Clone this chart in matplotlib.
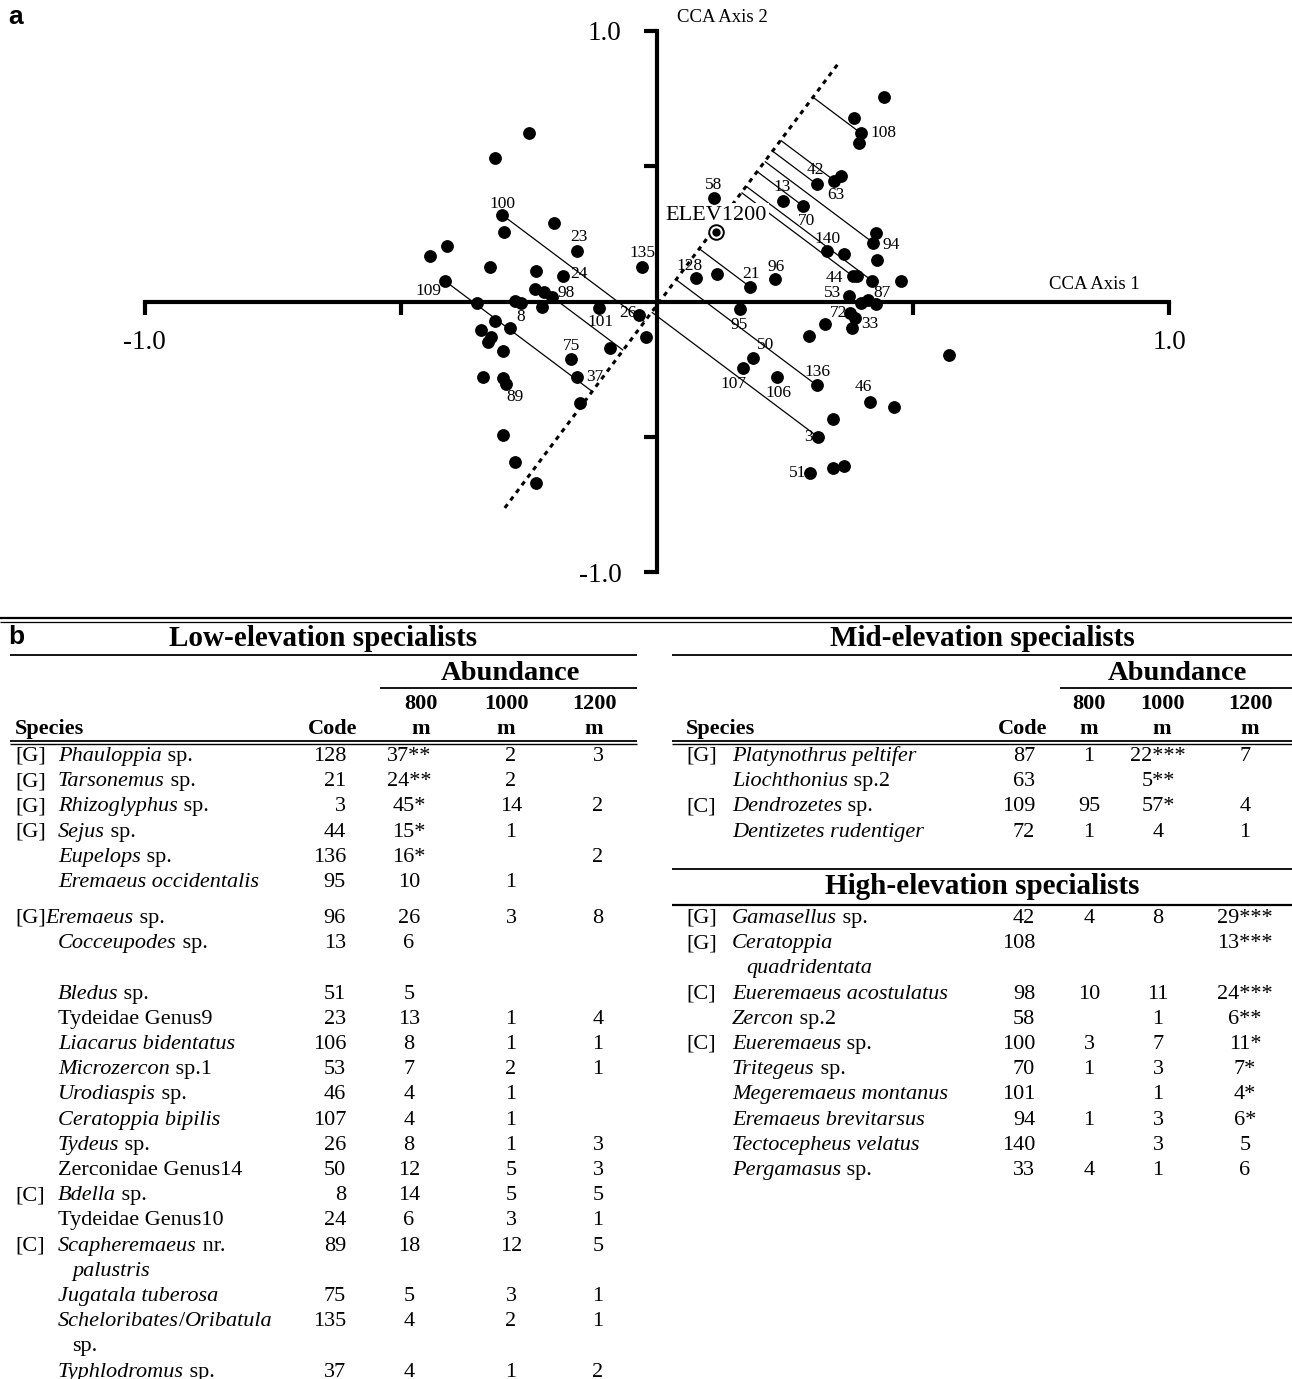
import matplotlib
matplotlib.use("Agg")
import matplotlib.pyplot as plt
import numpy as np

plt.rcParams["font.family"] = ["Liberation Serif", "DejaVu Serif"]

# ---------------- CCA species scores ----------------
axis1 = [-0.249, -0.316, -0.302, -0.298, -0.200, -0.157, -0.029, -0.410, -0.442, -0.326,
         -0.236, -0.183, -0.413, -0.238, -0.220, -0.204, -0.351, -0.277, -0.266, -0.225,
         -0.113, -0.036, -0.021, -0.092, -0.316, -0.287, -0.344, -0.323, -0.329, -0.301,
         -0.168, -0.156, -0.340, -0.301, -0.295, -0.150, -0.301, -0.277, -0.236,
         0.442, 0.385, 0.398, 0.394, 0.360, 0.346, 0.312, 0.111, 0.245, 0.285,
         0.427, 0.422, 0.332, 0.364, 0.430, 0.076, 0.118, 0.181, 0.230, 0.382,
         0.391, 0.420, 0.476, 0.374, 0.398, 0.412, 0.427, 0.161, 0.377, 0.386,
         0.381, 0.328, 0.297, 0.570, 0.188, 0.167, 0.234, 0.312, 0.416, 0.462,
         0.343, 0.315, 0.299, 0.343, 0.364]
axis2 = [0.624, 0.532, 0.320, 0.258, 0.291, 0.187, 0.128, 0.206, 0.167, 0.126,
         0.113, 0.093, 0.075, 0.047, 0.034, 0.016, -0.007, 0.003, -0.007, -0.019,
         -0.024, -0.050, -0.130, -0.171, -0.071, -0.099, -0.105, -0.132, -0.149, -0.183,
         -0.211, -0.278, -0.278, -0.283, -0.305, -0.376, -0.495, -0.594, -0.672,
         0.757, 0.677, 0.622, 0.585, 0.465, 0.447, 0.433, 0.382, 0.372, 0.353,
         0.254, 0.217, 0.188, 0.174, 0.153, 0.088, 0.101, 0.055, 0.082, 0.094,
         0.094, 0.076, 0.076, 0.022, -0.007, 0.004, -0.009, -0.028, -0.044, -0.062,
         -0.099, -0.084, -0.126, -0.198, -0.210, -0.247, -0.278, -0.310, -0.372, -0.390,
         -0.435, -0.502, -0.635, -0.617, -0.608]
species_code = ["", "", "100", "", "", "23", "135", "", "", "",
                "", "24", "109", "", "", "98", "", "", "", "",
                "101", "26", "", "", "", "8", "", "", "", "",
                "75", "37", "", "", "89", "", "", "", "",
                "", "", "108", "", "", "63", "42", "58", "13", "70",
                "", "94", "140", "", "", "128", "", "21", "96", "44",
                "", "", "", "53", "", "", "87", "95", "72", "",
                "33", "", "", "", "50", "107", "106", "136", "46", "",
                "", "3", "51", "", ""]
# species whose projection onto the elevation gradient is drawn
projected = ["100", "109", "98", "108", "63", "42", "94", "70", "44", "21", "136", "3"]
projected_extra = [60]          # unlabelled score also projected (index)

# environmental variable (centroid) and its fitted axis
elev_name = "ELEV1200"
elev_xy = (0.115, 0.256)
elev_axis = [(-0.297, -0.763), (0.353, 0.878)]

# label offsets in pixels (dx, dy)
label_offset = {
    "100": (0, 11), "23": (2, 14), "135": (0, 14), "24": (16, 2), "109": (-17, -10),
    "98": (14, 4), "8": (11, 11), "101": (1, -14), "26": (-11, 2), "75": (1, 13),
    "37": (18, 0), "89": (9, -13), "128": (-6, 12), "21": (1, 13), "96": (1, 12),
    "58": (0, 13), "13": (0, 14), "70": (3, -15), "42": (-2, 14), "63": (2, -14),
    "108": (22, 0), "140": (0, 12), "94": (18, -2), "44": (-18, -2), "53": (-16, 3),
    "87": (6, 11), "72": (-12, 0), "33": (18, 4), "95": (0, -16), "50": (12, 13),
    "107": (-9, -16), "106": (2, -16), "136": (1, 13), "46": (-7, 15), "3": (-10, 0),
    "51": (-13, 0),
}

# ---------------- specialist tables ----------------
low_tags = ["[G]", "[G]", "[G]", "[G]", "", "", "", "", "", "", "", "", "", "", "", "",
            "[C]", "", "[C]", "", "", ""]
low_names = ["_Phauloppia_ sp.", "_Tarsonemus_ sp.", "_Rhizoglyphus_ sp.", "_Sejus_ sp.",
             "_Eupelops_ sp.", "_Eremaeus occidentalis_", "[G]_Eremaeus_ sp.",
             "_Cocceupodes_ sp.\n", "_Bledus_ sp.", "Tydeidae Genus9", "_Liacarus bidentatus_",
             "_Microzercon_ sp.1", "_Urodiaspis_ sp.", "_Ceratoppia bipilis_", "_Tydeus_ sp.",
             "Zerconidae Genus14", "_Bdella_ sp.", "Tydeidae Genus10",
             "_Scapheremaeus_ nr.\n_palustris_", "_Jugatala tuberosa_",
             "_Scheloribates_/_Oribatula_\nsp.", "_Typhlodromus_ sp."]
low_code = [128, 21, 3, 44, 136, 95, 96, 13, 51, 23, 106, 53, 46, 107, 26, 50, 8, 24, 89, 75, 135, 37]
low_800 = ["37**", "24**", "45*", "15*", "16*", "10", "26", "6", "5", "13", "8", "7", "4", "4",
           "8", "12", "14", "6", "18", "5", "4", "4"]
low_1000 = ["2", "2", "14", "1", "", "1", "3", "", "", "1", "1", "2", "1", "1", "1", "5", "5",
            "3", "12", "3", "2", "1"]
low_1200 = ["3", "", "2", "", "2", "", "8", "", "", "4", "1", "1", "", "", "3", "3", "5", "1",
            "5", "1", "1", "2"]

mid_tags = ["[G]", "", "[C]", ""]
mid_names = ["_Platynothrus peltifer_", "_Liochthonius_ sp.2", "_Dendrozetes_ sp.",
             "_Dentizetes rudentiger_"]
mid_code = [87, 63, 109, 72]
mid_800 = ["1", "", "95", "1"]
mid_1000 = ["22***", "5**", "57*", "4"]
mid_1200 = ["7", "", "4", "1"]

high_tags = ["[G]", "[G]", "[C]", "", "[C]", "", "", "", "", ""]
high_names = ["_Gamasellus_ sp.", "_Ceratoppia_\n_quadridentata_", "_Eueremaeus acostulatus_",
              "_Zercon_ sp.2", "_Eueremaeus_ sp.", "_Tritegeus_ sp.", "_Megeremaeus montanus_",
              "_Eremaeus brevitarsus_", "_Tectocepheus velatus_", "_Pergamasus_ sp."]
high_code = [42, 108, 98, 58, 100, 70, 101, 94, 140, 33]
high_800 = ["4", "", "10", "", "3", "1", "", "1", "", "4"]
high_1000 = ["8", "", "11", "1", "7", "3", "1", "3", "3", "1"]
high_1200 = ["29***", "13***", "24***", "6**", "11*", "7*", "4*", "6*", "5", "6"]

elevations = ["800", "1000", "1200"]

# ---------------- figure ----------------
W, H = 1292, 1379
fig = plt.figure(figsize=(W / 100, H / 100), dpi=100)

# full-page pixel canvas for the tables and panel letters
tab = fig.add_axes([0, 0, 1, 1])
tab.set_xlim(0, W)
tab.set_ylim(H, 0)
tab.axis("off")

# ordination panel
ax = fig.add_axes([144.5 / W, 1 - 572 / H, 1025 / W, 541 / H])
ax.set_facecolor("none")
ax.set_xlim(-1, 1)
ax.set_ylim(-1, 1)
for s in ("top", "right"):
    ax.spines[s].set_visible(False)
for s in ("left", "bottom"):
    ax.spines[s].set_position(("data", 0))
    ax.spines[s].set_linewidth(3)
    ax.spines[s].set_capstyle("projecting")
ticks = [-1, -0.5, 0.5, 1]
ticklabels = ["-1.0", "", "", "1.0"]
ax.set_xticks(ticks, ticklabels)
ax.set_yticks(ticks, ticklabels)
ax.tick_params(axis="both", direction="out", length=9.5, width=3, labelsize=19.5)
ax.tick_params(axis="x", pad=11)
ax.tick_params(axis="y", pad=16)

ax.annotate("CCA Axis 2", (0, 1), xytext=(20, 13), textcoords="offset pixels",
            fontsize=13.5, ha="left", va="center")
ax.annotate("CCA Axis 1", (1, 0), xytext=(-30, 17), textcoords="offset pixels",
            fontsize=13.5, ha="right", va="center")

# elevation gradient axis
ex = [p[0] for p in elev_axis]
ey = [p[1] for p in elev_axis]
ax.plot(ex, ey, color="black", lw=2.2, ls=(0, (1.5, 1.6)), dash_capstyle="butt", zorder=2)

# perpendicular projections of selected species onto the gradient
T = ax.transData
p0 = T.transform(elev_axis[0])
p1 = T.transform(elev_axis[1])
u = (p1 - p0) / np.linalg.norm(p1 - p0)
proj_idx = [species_code.index(c) for c in projected] + projected_extra
for i in proj_idx:
    p = T.transform((axis1[i], axis2[i]))
    foot = p0 + np.dot(p - p0, u) * u
    fx, fy = T.inverted().transform(foot)
    ax.plot([axis1[i], fx], [axis2[i], fy], color="black", lw=0.9,
            solid_capstyle="butt", zorder=2)

ax.plot(axis1, axis2, "o", ms=8.2, color="black", mec="black", clip_on=False, zorder=5)

for i, c in enumerate(species_code):
    if c:
        dx, dy = label_offset[c]
        ax.annotate(c, (axis1[i], axis2[i]), xytext=(dx, dy), textcoords="offset pixels",
                    fontsize=12.5, ha="center", va="center", zorder=6)

# environmental centroid with its label on a white ground over the gradient line
ax.annotate(elev_name, elev_xy, xytext=(0, 17), textcoords="offset pixels",
            fontsize=16, ha="center", va="center", zorder=4,
            bbox=dict(boxstyle="square,pad=0.12", fc="white", ec="none"))
ax.plot(*elev_xy, "o", ms=10.5, mfc="white", mec="black", mew=1.4, zorder=6)
ax.plot(*elev_xy, "o", ms=5, color="black", zorder=7)

# panel letters
tab.text(16, 17, "a", fontsize=19, fontweight="bold", family="Liberation Sans",
         ha="center", va="center")
tab.text(16, 637, "b", fontsize=19, fontweight="bold", family="Liberation Sans",
         ha="center", va="center")

# ---------------- table drawing ----------------
renderer = fig.canvas.get_renderer()
FS = 16
LINE = 25.2
inv = tab.transData.inverted()


def rich(x, y, markup):
    """Draw text with _italic_ segments, left to right from x on baseline y."""
    parts = markup.split("_")
    for k, part in enumerate(parts):
        if not part:
            continue
        t = tab.text(x, y, part, fontsize=FS, ha="left", va="baseline",
                     fontstyle="italic" if k % 2 else "normal")
        bb = t.get_window_extent(renderer)
        x = inv.transform((bb.x1, bb.y0))[0]


def hline(x0, x1, y, lw=1.1):
    tab.plot([x0, x1], [y, y], color="black", lw=lw, solid_capstyle="butt")


def rows(tags, names, codes, a800, a1000, a1200, y, tag_x, name_x, code_x, col_x,
         gap_after=None):
    for i in range(len(names)):
        base = y + 6
        if tags[i]:
            tab.text(tag_x, base, tags[i], fontsize=FS, ha="left", va="baseline")
        lines = names[i].split("\n")
        for j, ln in enumerate(lines):
            if not ln:
                continue
            if j == 0:
                nx = tag_x if ln.startswith("[") else name_x
            else:
                nx = name_x + 14
            rich(nx, base + j * LINE, ln)
        tab.text(code_x, base, str(codes[i]), fontsize=FS, ha="right", va="baseline")
        for cx, val in zip(col_x, (a800[i], a1000[i], a1200[i])):
            if val:
                tab.text(cx, base, val, fontsize=FS, ha="center", va="baseline")
        y += LINE * len(lines)
        if gap_after is not None and i in gap_after:
            y = gap_after[i]


def header(x_left, x_right, title, abund_x, abund_line, col_x, species_x, code_x):
    tab.text((x_left + x_right) / 2, 638, title, fontsize=21, fontweight="bold",
             ha="center", va="center")
    hline(x_left, x_right, 655, lw=1.3)
    tab.text(abund_x, 673, "Abundance", fontsize=20.5, fontweight="bold",
             ha="center", va="center")
    hline(abund_line, x_right, 688, lw=1.3)
    for cx, e in zip(col_x, elevations):
        tab.text(cx, 704, e, fontsize=FS, fontweight="bold", ha="center", va="center")
        tab.text(cx, 729, "m", fontsize=FS, fontweight="bold", ha="center", va="center")
    tab.text(species_x, 729, "Species", fontsize=FS, fontweight="bold", ha="left", va="center")
    tab.text(code_x, 729, "Code", fontsize=FS, fontweight="bold", ha="right", va="center")
    hline(x_left, x_right, 740.5, lw=1.3)
    hline(x_left, x_right, 743.5, lw=1.0)


# page rules
hline(0, W, 617.5, lw=1.6)
hline(0, W, 621.5, lw=0.9)

left_cols = [409, 511, 598]
right_cols = [1089, 1158, 1245]

header(10, 637, "Low-elevation specialists", 510, 380, [421, 506, 594], 15, 357)
header(672, W, "Mid-elevation specialists", 1177, 1060, [1089, 1162, 1250], 686, 1047)

rows(low_tags, low_names, low_code, low_800, low_1000, low_1200, 755, 15, 58, 346,
     left_cols, gap_after={5: 917})
rows(mid_tags, mid_names, mid_code, mid_800, mid_1000, mid_1200, 755, 686, 732, 1035,
     right_cols)

hline(672, W, 869, lw=1.3)
tab.text((672 + W) / 2, 887, "High-elevation specialists", fontsize=21, fontweight="bold",
         ha="center", va="center")
hline(672, W, 905, lw=1.6)
rows(high_tags, high_names, high_code, high_800, high_1000, high_1200, 917, 686, 732, 1035,
     right_cols)

fig.savefig("out.png", dpi=100)
